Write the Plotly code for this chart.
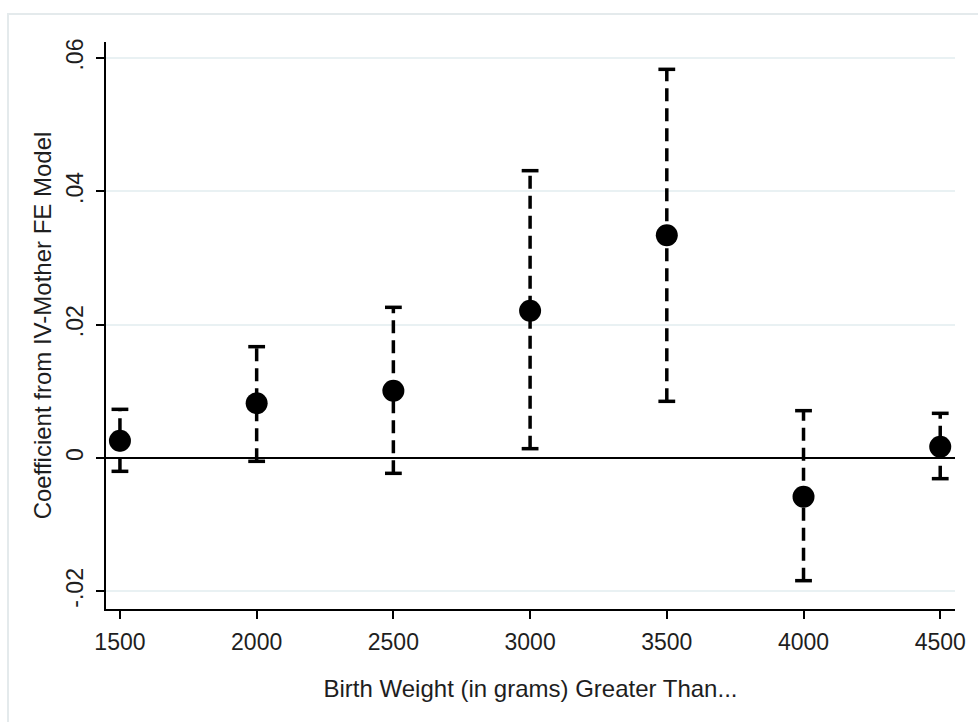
import plotly.graph_objects as go

# Data
birth_weight = [1500, 2000, 2500, 3000, 3500, 4000, 4500]
coef = [0.0026, 0.0082, 0.0101, 0.0221, 0.0334, -0.0058, 0.0017]
ci_low = [-0.0020, -0.0005, -0.0023, 0.0014, 0.0085, -0.0184, -0.0031]
ci_high = [0.0073, 0.0167, 0.0226, 0.0431, 0.0583, 0.0071, 0.0067]

y_tickvals = [-0.02, 0.0, 0.02, 0.04, 0.06]
y_ticktext = ["-.02", "0", ".02", ".04", ".06"]
x_tickvals = [1500, 2000, 2500, 3000, 3500, 4000, 4500]
x_ticktext = ["1500", "2000", "2500", "3000", "3500", "4000", "4500"]

FONT = "Liberation Sans, Arial, sans-serif"
TXT = "#1e1e1e"

fig = go.Figure()

# dashed CI lines
for x, lo, hi in zip(birth_weight, ci_low, ci_high):
    fig.add_trace(go.Scatter(
        x=[x, x], y=[lo, hi], mode="lines",
        line=dict(color="black", width=3.5, dash="13px,7px"),
        hoverinfo="skip", showlegend=False))

# caps
fig.add_trace(go.Scatter(
    x=birth_weight + birth_weight, y=ci_low + ci_high, mode="markers",
    marker=dict(symbol="line-ew", size=12, line=dict(color="black", width=3.5)),
    hoverinfo="skip", showlegend=False))

# point estimates
fig.add_trace(go.Scatter(
    x=birth_weight, y=coef, mode="markers",
    marker=dict(symbol="circle", size=22, color="black"),
    showlegend=False))

fig.update_layout(
    width=978, height=722, autosize=False,
    margin=dict(l=106, r=14, t=42, b=113),
    paper_bgcolor="white", plot_bgcolor="white",
    font=dict(family=FONT, size=24, color=TXT),
    shapes=[
        dict(type="rect", xref="paper", yref="paper",
             x0=-0.1154, x1=1.3, y0=-0.5, y1=1.0494,
             line=dict(color="#e4eaec", width=2), layer="below"),
    ],
)

fig.update_xaxes(
    range=[1449, 4554], tickvals=x_tickvals, ticktext=x_ticktext,
    showline=True, linecolor="black", linewidth=2,
    ticks="outside", ticklen=8, tickwidth=2, tickcolor="black",
    showgrid=False, zeroline=False, ticklabelstandoff=3,
    tickfont=dict(size=23, family=FONT, color=TXT),
    title=dict(text="Birth Weight (in grams) Greater Than...",
               font=dict(size=24, family=FONT, color=TXT), standoff=27),
)
fig.update_yaxes(
    range=[-0.02265, 0.0624], tickvals=y_tickvals, ticktext=y_ticktext,
    showline=True, linecolor="black", linewidth=2,
    ticks="outside", ticklen=8, tickwidth=2, tickcolor="black",
    showgrid=True, gridcolor="#e9f1f3", gridwidth=1.5,
    zeroline=True, zerolinecolor="black", zerolinewidth=1.5,
    tickangle=-90, ticklabelstandoff=4,
    tickfont=dict(size=23, family=FONT, color=TXT),
    title=dict(text="Coefficient from IV-Mother FE Model",
               font=dict(size=24, family=FONT, color=TXT), standoff=3),
)

fig.write_html(
    "out.html",
    config={"displayModeBar": False},
    post_script="document.body.style.margin='0';document.body.style.overflow='hidden';",
)
